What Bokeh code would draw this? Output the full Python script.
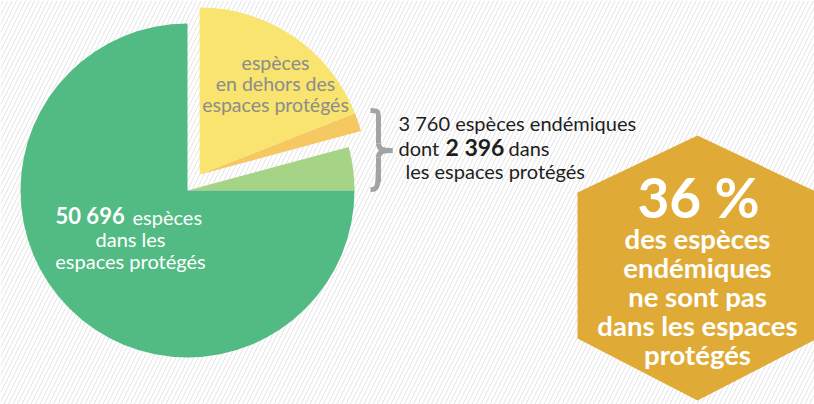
import numpy as np
from bokeh.plotting import figure
from bokeh.embed import file_html
from bokeh.resources import INLINE
from bokeh.core.properties import value

# ---- data (shares of the pie, in %) ----
categories = ["endémiques dans les espaces protégés", "endémiques hors espaces protégés",
              "espèces en dehors des espaces protégés", "espèces dans les espaces protégés"]
shares = [4.2, 1.8, 19.0, 75.0]
colors = ["#A6D487", "#F5C862", "#F8E46E", "#52BB84"]
exploded = [False, True, True, False]

yellow_lines = ["espèces", "en dehors des", "espaces protégés"]
green_lines = ["dans les", "espaces protégés"]
green_number = "50 696"
endemic_total = "3 760 espèces endémiques"
endemic_in = "2 396"
hex_big = "36 %"
hex_lines = ["des espèces", "endémiques", "ne sont pas", "dans les espaces", "protégés"]

W, H = 814, 404
def Y(v):
    return H - v

p = figure(width=W, height=H, x_range=(0, W), y_range=(0, H),
           output_backend="svg", toolbar_location=None, min_border=0)
p.axis.visible = False
p.grid.visible = False
p.outline_line_color = None
p.background_fill_color = "white"
p.border_fill_color = "white"

# striped background
p.quad(left=0, right=W, bottom=0, top=H, fill_color=None, line_color=None,
       hatch_pattern="/", hatch_color="#e3e3e3", hatch_scale=9, hatch_weight=1)

# ---- pie ----
cx, cy, r = 187, Y(190), 167
ang = np.cumsum([0] + shares) / 100 * 2 * np.pi
starts, ends = ang[:-1], ang[1:]
ex_idx = [i for i, e in enumerate(exploded) if e]
mid = (starts[ex_idx[0]] + ends[ex_idx[-1]]) / 2
off = 20
for i in range(len(shares)):
    dx = off * np.cos(mid) if exploded[i] else 0
    dy = off * np.sin(mid) if exploded[i] else 0
    p.wedge(x=cx + dx, y=cy + dy, radius=r, start_angle=starts[i], end_angle=ends[i],
            fill_color=colors[i], line_color=None)

FONT = "Lato"

# text in yellow slice
for k, t in enumerate(yellow_lines):
    p.text(x=[275], y=[Y(62 + 21 * k)], text=[t], text_font=value(FONT), text_font_size="19.5px",
           text_color="#8C8C8C", text_align="center", text_baseline="middle")

# text in green slice
p.text(x=[55], y=[Y(215)], text=[green_number], text_font=value(FONT), text_font_size="22px",
       text_font_style="bold", text_color="white", text_align="left", text_baseline="middle")
p.text(x=[132], y=[Y(216)], text=["espèces"], text_font=value(FONT), text_font_size="20px",
       text_color="white", text_align="left", text_baseline="middle")
for k, t in enumerate(green_lines):
    p.text(x=[130], y=[Y(238 + 22 * k)], text=[t], text_font=value(FONT), text_font_size="20px",
           text_color="white", text_align="center", text_baseline="middle")

# brace
bc = "#A2A3A6"
p.bezier(x0=[370, 378, 392, 378], y0=[Y(110), Y(143), Y(150), Y(157)],
         x1=[378, 392, 378, 370], y1=[Y(118), Y(150), Y(157), Y(189)],
         cx0=[377, 378, 385, 378], cy0=[Y(110), Y(150), Y(150), Y(189)],
         cx1=[378, 385, 378, 377], cy1=[Y(110), Y(150), Y(150), Y(189)],
         line_color=bc, line_width=5)
p.segment(x0=[378, 378], y0=[Y(117), Y(158)], x1=[378, 378], y1=[Y(143), Y(182)],
          line_color=bc, line_width=5)

# endemic text
tc = "#1E1E1E"
p.text(x=[398], y=[Y(122)], text=[endemic_total], text_font=value(FONT), text_font_size="20px",
       text_color=tc, text_align="left", text_baseline="middle")
p.text(x=[398], y=[Y(147)], text=["dont"], text_font=value(FONT), text_font_size="20px",
       text_color=tc, text_align="left", text_baseline="middle")
p.text(x=[445], y=[Y(146)], text=[endemic_in], text_font=value(FONT), text_font_size="23px",
       text_font_style="bold", text_color=tc, text_align="left", text_baseline="middle")
p.text(x=[508], y=[Y(147)], text=["dans"], text_font=value(FONT), text_font_size="20px",
       text_color=tc, text_align="left", text_baseline="middle")
p.text(x=[405], y=[Y(170)], text=["les espaces protégés"], text_font=value(FONT), text_font_size="20px",
       text_color=tc, text_align="left", text_baseline="middle")

# hexagon
hx = [697, 817, 817, 697, 577, 577]
hy = [Y(135), Y(192), Y(338), Y(400), Y(338), Y(192)]
p.patch(x=hx, y=hy, fill_color="#DFAB36", line_color=None)
p.text(x=[698], y=[Y(196)], text=[hex_big], text_font=value(FONT), text_font_size="55px",
       text_font_style="bold", text_color="white", text_align="center", text_baseline="middle")
for k, t in enumerate(hex_lines):
    p.text(x=[697], y=[Y(238 + 29 * k)], text=[t], text_font=value(FONT), text_font_size="27.5px",
           text_font_style="bold", text_color="white", text_align="center", text_baseline="middle")

open("out.html", "w").write(file_html(p, INLINE))
